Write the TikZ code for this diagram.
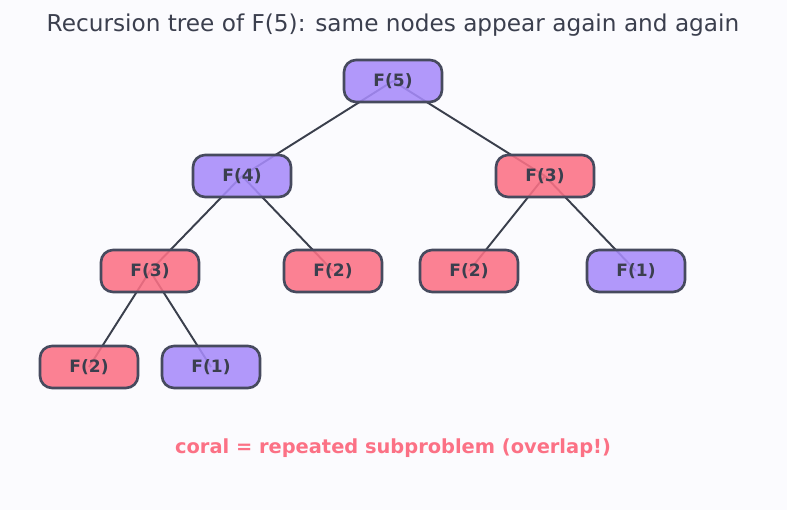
\documentclass[tikz,border=0pt]{standalone}
\usepackage{fontspec}
\setmainfont{DejaVu Sans}
\usetikzlibrary{positioning, backgrounds}
\definecolor{treebg}{HTML}{FBFBFE}
\definecolor{callpurple}{HTML}{A78BFA}
\definecolor{callcoral}{HTML}{FB7185}
\definecolor{callborder}{HTML}{464A5E}
\definecolor{calledge}{HTML}{3A3F4C}
\definecolor{calltext}{HTML}{3B3F4E}

\begin{document}
\begin{tikzpicture}[x=0.02cm, y=0.02cm,
	call/.style={draw=callborder, line width=1.5pt, rounded corners=0.24cm, minimum width=1.96cm, minimum height=0.84cm, fill opacity=0.88, text opacity=1, text=calltext, font=\fontsize{9.7}{11}\selectfont\bfseries},
	fresh/.style={call, fill=callpurple},
	repeated/.style={call, fill=callcoral},
	link/.style={draw=calledge, line width=1.1pt}]
	\useasboundingbox (0,0) rectangle (787,510);
	\node[text=calltext, font=\fontsize{13.2}{15}\selectfont] (title) at (393,485) {Recursion tree of F(5): same nodes appear again and again};
	% the calls
	\node[fresh] (f5) at (393,429) {F(5)};
	\node[fresh] (f4) at (242,334) {F(4)};
	\node[repeated] (f3r) at (545,334) {F(3)};
	\node[repeated] (f3l) at (150,239) {F(3)};
	\node[repeated] (f2a) at (333,239) {F(2)};
	\node[repeated] (f2b) at (469,239) {F(2)};
	\node[fresh] (f1a) at (636,239) {F(1)};
	\node[repeated] (f2c) at (89,143) {F(2)};
	\node[fresh] (f1b) at (211,143) {F(1)};
	\begin{scope}[on background layer]
		\fill[treebg] (0,0) rectangle (787,510);
		\draw[link] (f5.center) -- (f4.center);
		\draw[link] (f5.center) -- (f3r.center);
		\draw[link] (f4.center) -- (f3l.center);
		\draw[link] (f4.center) -- (f2a.center);
		\draw[link] (f3r.center) -- (f2b.center);
		\draw[link] (f3r.center) -- (f1a.center);
		\draw[link] (f3l.center) -- (f2c.center);
		\draw[link] (f3l.center) -- (f1b.center);
	\end{scope}
	\node[text=callcoral, font=\fontsize{11.05}{13}\selectfont\bfseries] (note) at (393,62) {coral = repeated subproblem (overlap!)};
\end{tikzpicture}
\end{document}
